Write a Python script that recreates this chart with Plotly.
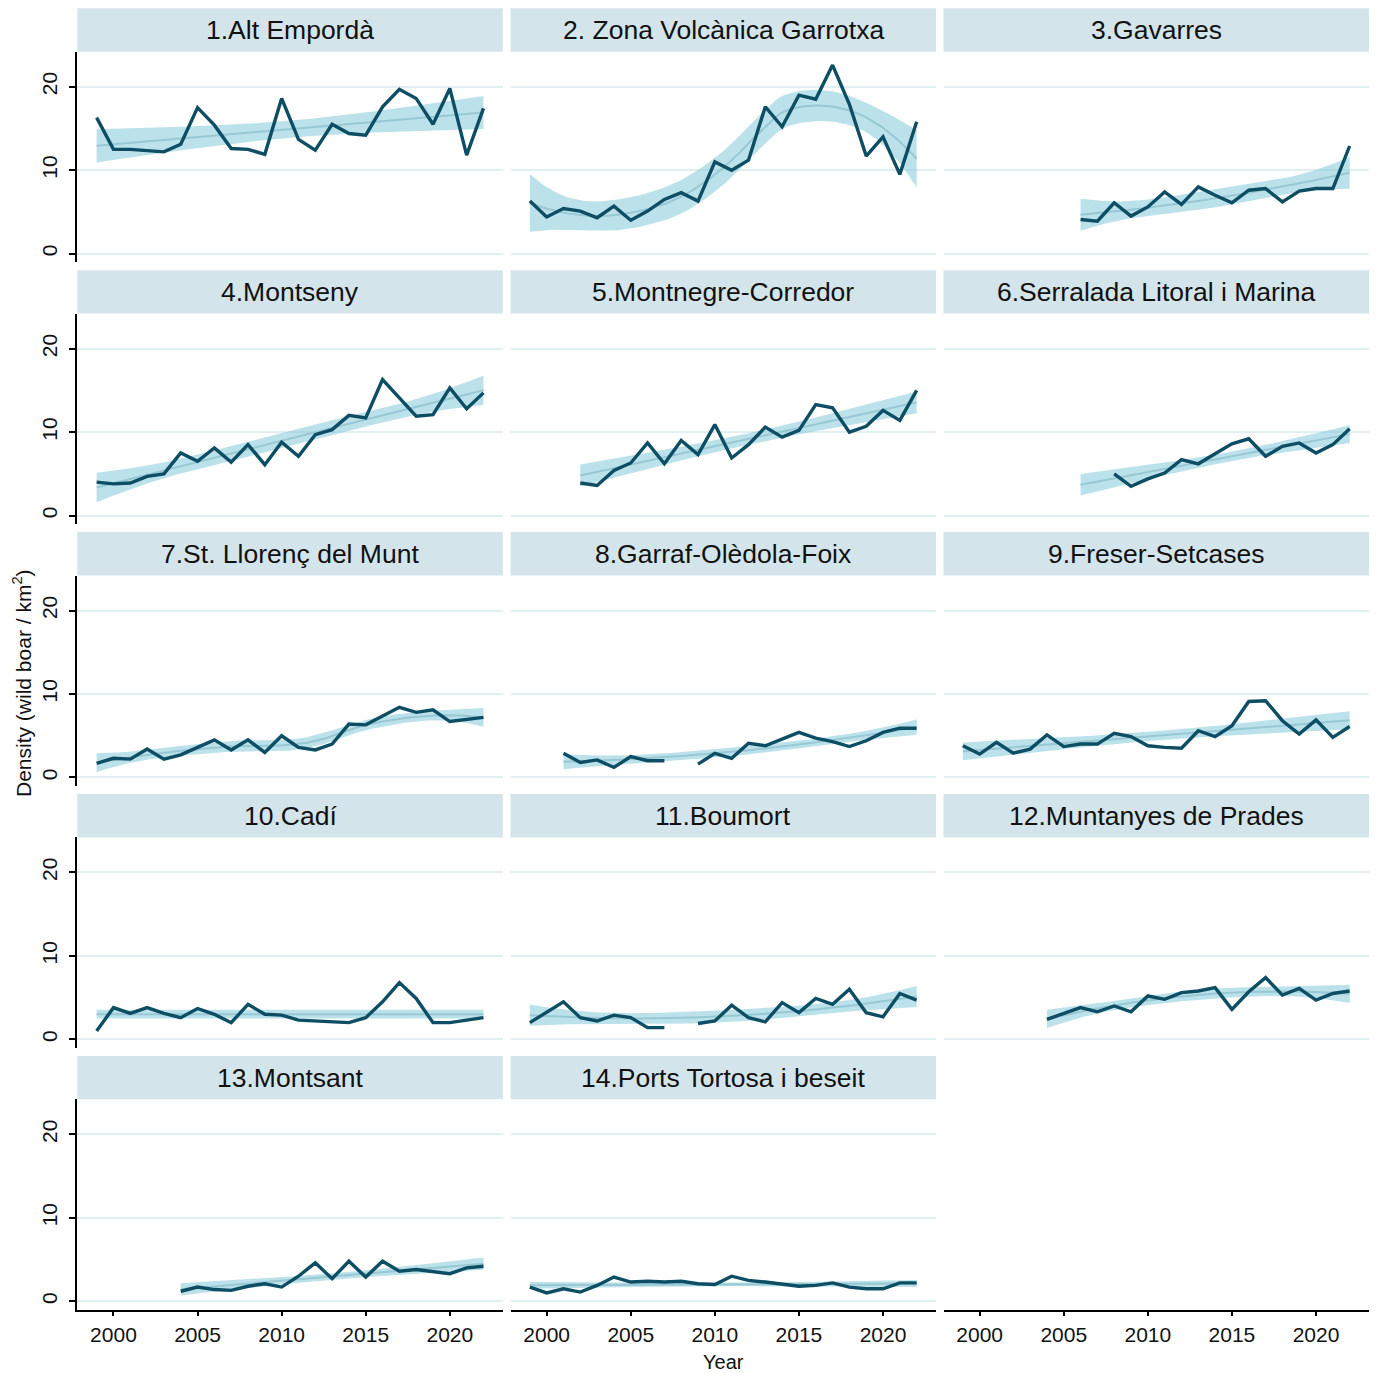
import numpy as np
import plotly.graph_objects as go

# ---------------------------------------------------------------- data
years = list(range(1999, 2023))
N = None

region_names = [
    "1.Alt Empordà", "2. Zona Volcànica Garrotxa", "3.Gavarres",
    "4.Montseny", "5.Montnegre-Corredor", "6.Serralada Litoral i Marina",
    "7.St. Llorenç del Munt", "8.Garraf-Olèdola-Foix", "9.Freser-Setcases",
    "10.Cadí", "11.Boumort", "12.Muntanyes de Prades",
    "13.Montsant", "14.Ports Tortosa i beseit",
]

alt_emporda = [16.3, 12.5, 12.5, 12.3, 12.2, 13.1, 17.5, 15.4, 12.6, 12.5, 11.9, 18.6,
               13.7, 12.4, 15.5, 14.4, 14.2, 17.6, 19.7, 18.6, 15.5, 19.8, 11.8, 17.4]
garrotxa = [6.3, 4.4, 5.4, 5.1, 4.3, 5.7, 4.0, 5.1, 6.5, 7.3, 6.3, 11.0,
            10.0, 11.2, 17.6, 15.2, 19.0, 18.5, 22.6, 17.9, 11.7, 14.0, 9.5, 15.8]
gavarres = [N, N, N, N, N, N, N, 4.1, 3.9, 6.1, 4.5, 5.6,
            7.4, 5.9, 8.0, 7.0, 6.1, 7.6, 7.8, 6.2, 7.5, 7.8, 7.8, 12.9]
montseny = [4.0, 3.8, 3.9, 4.7, 5.0, 7.5, 6.5, 8.1, 6.4, 8.5, 6.1, 8.8,
            7.1, 9.7, 10.3, 12.0, 11.7, 16.3, 14.1, 11.9, 12.1, 15.3, 12.8, 14.7]
montnegre = [N, N, N, 3.9, 3.6, 5.4, 6.3, 8.7, 6.2, 9.0, 7.3, 10.9,
             6.9, 8.5, 10.6, 9.4, 10.2, 13.3, 12.9, 10.0, 10.7, 12.6, 11.4, 15.0]
serralada = [N, N, N, N, N, N, N, N, N, 5.0, 3.5, 4.4,
             5.1, 6.7, 6.2, 7.4, 8.6, 9.2, 7.1, 8.3, 8.7, 7.5, 8.5, 10.4]
st_llorenc = [1.7, 2.3, 2.2, 3.4, 2.2, 2.7, 3.6, 4.5, 3.3, 4.5, 3.0, 5.0,
              3.6, 3.3, 4.0, 6.4, 6.3, 7.3, 8.4, 7.8, 8.1, 6.7, 6.9, 7.2]
garraf = [N, N, 2.9, 1.8, 2.1, 1.2, 2.5, 2.0, 2.0, N, 1.6, 2.9,
          2.3, 4.1, 3.8, 4.6, 5.4, 4.7, 4.3, 3.7, 4.4, 5.4, 5.9, 5.9]
freser = [3.8, 2.8, 4.2, 2.9, 3.4, 5.1, 3.7, 4.0, 4.0, 5.3, 4.9, 3.8,
          3.6, 3.5, 5.6, 4.9, 6.2, 9.1, 9.2, 6.8, 5.2, 6.9, 4.8, 6.1]
cadi = [1.0, 3.8, 3.1, 3.8, 3.1, 2.6, 3.7, 3.0, 2.0, 4.2, 3.0, 2.9,
        2.3, 2.2, 2.0, 2.0, 2.6, 4.5, 6.8, 4.9, 2.0, 2.0, 2.3, 2.6]
boumort = [2.0, 3.2, 4.5, 2.6, 2.2, 2.9, 2.6, 1.4, 1.4, N, 1.9, 2.2,
           4.1, 2.6, 2.1, 4.4, 3.2, 4.9, 4.2, 6.0, 3.2, 2.7, 5.5, 4.7]
prades = [N, N, N, N, N, 2.4, 3.1, 3.8, 3.3, 4.0, 3.3, 5.2,
          4.8, 5.6, 5.8, 6.2, 3.6, 5.7, 7.4, 5.3, 6.1, 4.7, 5.5, 5.8]
montsant = [N, N, N, N, N, 1.2, 1.7, 1.4, 1.3, 1.8, 2.1, 1.7,
            3.0, 4.6, 2.7, 4.8, 2.9, 4.8, 3.6, 3.8, 3.5, 3.3, 4.0, 4.2]
ports = [1.7, 1.0, 1.5, 1.1, 1.9, 2.9, 2.3, 2.4, 2.3, 2.4, 2.1, 2.0,
         3.0, 2.5, 2.3, 2.1, 1.8, 1.9, 2.2, 1.7, 1.5, 1.5, 2.2, 2.2]

series = [alt_emporda, garrotxa, gavarres, montseny, montnegre, serralada,
          st_llorenc, garraf, freser, cadi, boumort, prades, montsant, ports]

# smoother per region: ("poly", degree) or ("loess", span); first year of the curve
trend_method = [("poly", 1), ("loess", 0.75), ("poly", 2), ("poly", 2), ("poly", 1),
                ("poly", 1), ("loess", 0.75), ("poly", 2), ("poly", 1), ("poly", 0),
                ("poly", 2), ("poly", 2), ("poly", 1), ("poly", 1)]
trend_start = [1999, 1999, 2006, 1999, 2002, 2006, 1999, 2001, 1999, 1999, 1999, 2004, 2004, 1999]

x_ticks = [2000, 2005, 2010, 2015, 2020]
y_ticks = [0, 10, 20]

# ---------------------------------------------------------------- style
LINE = "#0d4e64"
BAND = "rgba(120,196,214,0.50)"
TREND = "#97c8d4"
STRIP = "#d3e5ea"
GRID = "#e1eef2"
TXT = "#111111"
FONT = "Liberation Sans, Arial, Helvetica, sans-serif"

W, H = 1378, 1373
col_left = [77.3, 510.5, 943.5]
col_w = 425.5
row_top0, row_pitch = 8.3, 261.9
strip_h, plot_h = 43.4, 210.3
x_range = [1997.85, 2023.15]
y_range = [-1.0, 24.2]


def px(x):
    return x / W


def py(y):
    return 1 - y / H


def t975(dof):
    return 1.96 + 2.4 / dof


def poly_trend(xs, ys, deg, grid):
    c, s = 2010.0, 10.0
    X = np.vander((xs - c) / s, deg + 1)
    beta, *_ = np.linalg.lstsq(X, ys, rcond=None)
    resid = ys - X @ beta
    dof = len(ys) - (deg + 1)
    s2 = resid @ resid / dof
    cov = s2 * np.linalg.inv(X.T @ X)
    G = np.vander((grid - c) / s, deg + 1)
    fit = G @ beta
    se = np.sqrt(np.einsum("ij,jk,ik->i", G, cov, G))
    tq = t975(dof)
    return fit, fit - tq * se, fit + tq * se


def loess_rows(xs, x0, span):
    # local quadratic, tricube weights -> row of the smoother matrix
    n = len(xs)
    q = int(np.floor(n * span))
    d = np.abs(xs - x0)
    h = np.sort(d)[q - 1] * 1.0001
    w = np.clip(1 - (d / h) ** 3, 0, None) ** 3
    X = np.vander(xs - x0, 3, increasing=True)
    XtW = X.T * w
    A = np.linalg.pinv(XtW @ X) @ XtW
    return A[0]


def loess_trend(xs, ys, span, grid):
    L = np.array([loess_rows(xs, x, span) for x in xs])
    resid = ys - L @ ys
    dof = len(ys) - np.trace(L)
    s = np.sqrt(resid @ resid / dof)
    G = np.array([loess_rows(xs, x, span) for x in grid])
    fit = G @ ys
    se = s * np.sqrt((G ** 2).sum(axis=1))
    tq = t975(dof)
    return fit, fit - tq * se, fit + tq * se


fig = go.Figure()
layout = dict(
    width=W, height=H, margin=dict(l=0, r=0, t=0, b=0),
    paper_bgcolor="white", plot_bgcolor="white", showlegend=False,
    font=dict(family=FONT, color=TXT),
)
shapes, annotations = [], []

for i, (name, vals) in enumerate(zip(region_names, series)):
    r, c = divmod(i, 3)
    k = i + 1
    xa, ya = f"x{k}", f"y{k}"
    left = col_left[c]
    top = row_top0 + r * row_pitch
    ptop = top + strip_h
    pbot = top + strip_h + plot_h

    xs = np.array([yr for yr, v in zip(years, vals) if v is not None], float)
    ys = np.array([v for v in vals if v is not None], float)
    grid = np.linspace(trend_start[i], 2022, 120)
    kind, p = trend_method[i]
    if kind == "loess":
        fit, lo, hi = loess_trend(xs, ys, p, grid)
    else:
        fit, lo, hi = poly_trend(xs, ys, p, grid)

    fig.add_trace(go.Scatter(
        x=np.concatenate([grid, grid[::-1]]), y=np.concatenate([hi, lo[::-1]]),
        fill="toself", fillcolor=BAND, line=dict(width=0), mode="lines",
        hoverinfo="skip", xaxis=xa, yaxis=ya))
    fig.add_trace(go.Scatter(
        x=grid, y=fit, mode="lines", line=dict(color=TREND, width=2),
        hoverinfo="skip", xaxis=xa, yaxis=ya))
    fig.add_trace(go.Scatter(
        x=years, y=vals, mode="lines", connectgaps=False,
        line=dict(color=LINE, width=3.4), xaxis=xa, yaxis=ya))

    layout[f"xaxis{k}"] = dict(
        domain=[px(left), px(left + col_w)], anchor=ya, range=x_range,
        showgrid=False, zeroline=False, tickvals=x_ticks,
        showticklabels=(r == 4), showline=(r == 4), linecolor="black", linewidth=1.6,
        ticks="outside" if r == 4 else "", ticklen=5, tickwidth=1.5, tickcolor="black",
        tickfont=dict(size=21, color=TXT, family=FONT),
    )
    layout[f"yaxis{k}"] = dict(
        domain=[py(pbot), py(ptop)], anchor=xa, range=y_range,
        showgrid=True, gridcolor=GRID, gridwidth=2, zeroline=False, tickvals=y_ticks,
        showticklabels=(c == 0), showline=(c == 0), linecolor="black", linewidth=2,
        ticks="outside" if c == 0 else "", ticklen=6, tickwidth=1.6, tickcolor="black",
        tickangle=-90, ticklabelstandoff=4,
        tickfont=dict(size=21, color=TXT, family=FONT),
    )

    shapes.append(dict(type="rect", xref="paper", yref="paper",
                       x0=px(left), x1=px(left + col_w), y0=py(ptop), y1=py(top),
                       fillcolor=STRIP, line=dict(width=0), layer="below"))
    annotations.append(dict(text=name, xref="paper", yref="paper",
                            x=px(left + col_w / 2), y=py(top + strip_h / 2),
                            xanchor="center", yanchor="middle", showarrow=False,
                            font=dict(size=26.5, color=TXT, family=FONT)))

# bottom x axis under the empty third column
r, c = 4, 2
top = row_top0 + r * row_pitch
layout["xaxis15"] = dict(
    domain=[px(col_left[c]), px(col_left[c] + col_w)], anchor="y15", range=x_range,
    showgrid=False, zeroline=False, tickvals=x_ticks, showticklabels=True,
    showline=True, linecolor="black", linewidth=1.6, ticks="outside", ticklen=5,
    tickwidth=1.5, tickcolor="black", tickfont=dict(size=21, color=TXT, family=FONT))
layout["yaxis15"] = dict(
    domain=[py(top + strip_h + plot_h), py(top + strip_h)], anchor="x15",
    range=y_range, visible=False, showgrid=False)
fig.add_trace(go.Scatter(x=[None], y=[None], xaxis="x15", yaxis="y15", mode="lines"))

annotations.append(dict(text="Year", xref="paper", yref="paper", x=px(723), y=py(1362),
                        xanchor="center", yanchor="middle", showarrow=False,
                        font=dict(size=20, color=TXT, family=FONT)))
annotations.append(dict(text="Density (wild boar / km<sup>2</sup>)", xref="paper", yref="paper",
                        x=px(22), y=py(683), textangle=-90,
                        xanchor="center", yanchor="middle", showarrow=False,
                        font=dict(size=21, color=TXT, family=FONT)))

layout["shapes"] = shapes
layout["annotations"] = annotations
fig.update_layout(**layout)
fig.write_html("out.html")
